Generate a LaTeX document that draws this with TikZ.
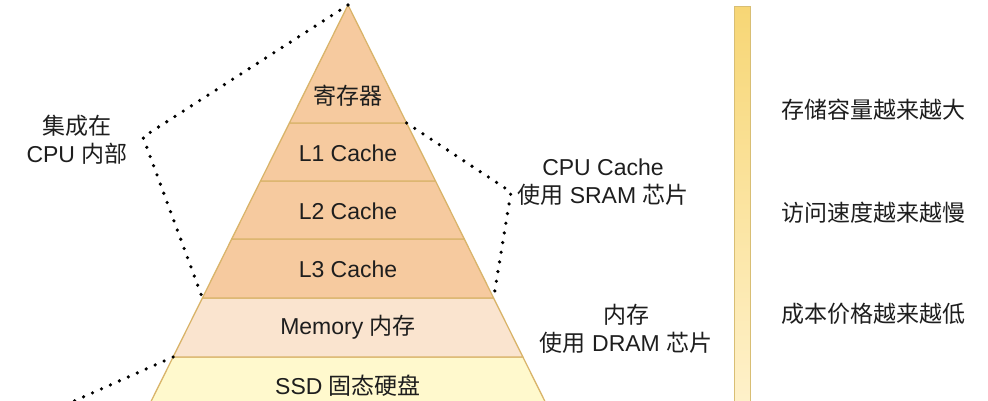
\documentclass[tikz,border=0pt]{standalone}
\usepackage{fontspec}
\setmainfont{Liberation Sans}
\newfontfamily\cjk{Noto Sans CJK SC}
\usetikzlibrary{calc}
\definecolor{topfill}{HTML}{F6CA9F}
\definecolor{memfill}{HTML}{FAE4CF}
\definecolor{ssdfill}{HTML}{FFF9CD}
\definecolor{edge}{HTML}{D9B46A}
\definecolor{bartop}{HTML}{F7D675}
\definecolor{barbot}{HTML}{FFF3D0}
\definecolor{barline}{HTML}{D8BE74}
\definecolor{txt}{HTML}{1E1E1E}
\tikzset{
  band/.style={draw=edge, line width=1.3pt, line join=round},
  lbl/.style={font=\fontsize{23}{28}\selectfont, text=txt, align=center, inner sep=0pt},
  dots/.style={line width=3.6pt, line cap=round, dash pattern=on 0pt off 9.8pt, black},
}
\begin{document}
\begin{tikzpicture}[x=1pt,y=-1pt]
\useasboundingbox (0,0) rectangle (988,400);
\clip (0,0) rectangle (988,400);
% corner coordinates
\coordinate (apex) at (348,5);
\coordinate (l1) at (289.4,123); \coordinate (r1) at (406.6,123);
\coordinate (l2) at (260.5,181); \coordinate (r2) at (435.5,181);
\coordinate (l3) at (231.7,239); \coordinate (r3) at (464.3,239);
\coordinate (l4) at (202.4,298); \coordinate (r4) at (493.6,298);
\coordinate (l5) at (173.1,357); \coordinate (r5) at (522.9,357);
\coordinate (l6) at (141.8,420); \coordinate (r6) at (554.2,420);
% bands
\filldraw[band, fill=ssdfill] (l5) -- (r5) -- (r6) -- (l6) -- cycle;
\filldraw[band, fill=memfill] (l4) -- (r4) -- (r5) -- (l5) -- cycle;
\filldraw[band, fill=topfill] (l3) -- (r3) -- (r4) -- (l4) -- cycle;
\filldraw[band, fill=topfill] (l2) -- (r2) -- (r3) -- (l3) -- cycle;
\filldraw[band, fill=topfill] (l1) -- (r1) -- (r2) -- (l2) -- cycle;
\filldraw[band, fill=topfill] (apex) -- (r1) -- (l1) -- cycle;
% band labels
\node[lbl] (reg) at (348,96) {\cjk 寄存器};
\node[lbl] (c1) at (348,153) {L1 Cache};
\node[lbl] (c2) at (348,211) {L2 Cache};
\node[lbl] (c3) at (348,269) {L3 Cache};
\node[lbl] (mem) at (348,327) {Memory {\cjk 内存}};
\node[lbl] (ssd) at (348,386) {SSD {\cjk 固态硬盘}};
% side labels
\node[lbl] (cpuin) at (77,140) {{\cjk 集成在}\\CPU {\cjk 内部}};
\node[lbl] (sram) at (603,182) {CPU Cache\\{\cjk 使用} SRAM {\cjk 芯片}};
\node[lbl] (dram) at (626,329) {{\cjk 内存}\\{\cjk 使用} DRAM {\cjk 芯片}};
% dotted connectors
\coordinate (lc) at (143,137);
\coordinate (rc) at (511,192);
\coordinate (bl) at (0,434);
\draw[dots] (apex) -- (lc) -- (l4);
\draw[dots] (r1) -- (rc) -- (r4);
\draw[dots] (l5) -- (bl);
% gradient bar
\shade[top color=bartop, bottom color=barbot, draw=barline, line width=0.8pt] (734,6) rectangle (750,430);
\node[lbl] (cap) at (873,110) {\cjk 存储容量越来越大};
\node[lbl] (spd) at (873,213) {\cjk 访问速度越来越慢};
\node[lbl] (cost) at (873,314) {\cjk 成本价格越来越低};
\end{tikzpicture}
\end{document}
